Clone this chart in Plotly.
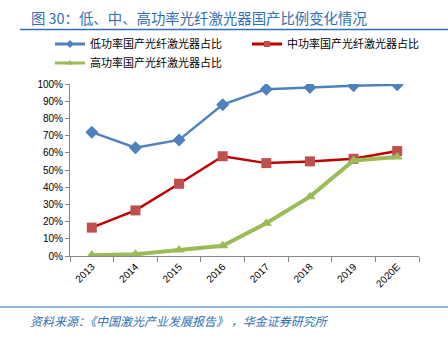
import plotly.graph_objects as go

years = ["2013", "2014", "2015", "2016", "2017", "2018", "2019", "2020E"]
low_power = [72, 63, 67.5, 88, 97, 98, 99, 99.5]
mid_power = [16.5, 26.5, 42, 58, 54, 55, 56.5, 61]
high_power = [0.5, 1, 3.5, 6, 19, 34.5, 55.5, 57.5]
names = ["低功率国产光纤激光器占比", "中功率国产光纤激光器占比", "高功率国产光纤激光器占比"]
title_text = "图 30：低、中、高功率光纤激光器国产比例变化情况"
source_text = "资料来源：《中国激光产业发展报告》 ，华金证券研究所"

CJK = "Noto Sans CJK SC"
LAT = "Liberation Sans"

# plot area in pixels: x 70..419, y 84..256
L, R, T, B = 70, 419, 84, 256
def px(x):
    return (x - L) / (R - L)
def py(y):
    return (B - y) / (B - T)

series = [
    (names[0], low_power, "#4F81BD", "#4F81BD", 2.5, "diamond", "legend"),
    (names[1], mid_power, "#C00000", "#C0504D", 2.5, "square", "legend2"),
    (names[2], high_power, "#9BBB59", "#9BBB59", 4, "triangle-up", "legend3"),
]

fig = go.Figure()
for name, vals, lc, mc, lw, sym, leg in series:
    fig.add_trace(go.Scatter(x=years, y=vals, name=name, mode="lines+markers",
                             line=dict(color=lc, width=lw),
                             marker=dict(symbol=sym, size=10, color=mc),
                             showlegend=False))
    # legend-only entry with smaller marker, as in the reference legend
    fig.add_trace(go.Scatter(x=[None], y=[None], name=name, mode="lines+markers",
                             line=dict(color=lc, width=3),
                             marker=dict(symbol=sym, size=6, color=mc),
                             legend=leg, showlegend=True))

leg_common = dict(orientation="v", xanchor="left", yanchor="middle",
                  font=dict(family=CJK, size=11, color="#000000"),
                  itemwidth=30, tracegroupgap=0, bgcolor="rgba(0,0,0,0)")

fig.update_layout(
    width=448, height=338,
    margin=dict(l=L, r=448 - R, t=T, b=338 - B),
    paper_bgcolor="white", plot_bgcolor="white",
    font=dict(family=LAT, size=10, color="#000000"),
    showlegend=True,
    legend=dict(x=px(50), y=py(44), **leg_common),
    legend2=dict(x=px(247), y=py(44), **leg_common),
    legend3=dict(x=px(50), y=py(63), **leg_common),
    xaxis=dict(type="category", showline=True, linecolor="#868686", linewidth=1,
               ticks="outside", tickson="boundaries", ticklen=5, tickcolor="#868686",
               tickangle=-45, showgrid=False, tickfont=dict(family=LAT, size=10),
               range=[-0.5, 7.5]),
    yaxis=dict(range=[0, 100], dtick=10, ticksuffix="%", showline=True,
               linecolor="#868686", linewidth=1, ticks="outside", ticklen=4,
               tickcolor="#868686", showgrid=False, zeroline=False,
               tickfont=dict(family=LAT, size=10)),
    shapes=[
        dict(type="line", xref="paper", yref="paper", x0=px(20), x1=px(448),
             y0=py(29.5), y1=py(29.5), line=dict(color="#2F6FB4", width=1.5)),
        dict(type="line", xref="paper", yref="paper", x0=px(0), x1=px(448),
             y0=py(307), y1=py(307), line=dict(color="#8DB8E6", width=2)),
    ],
)

fig.add_annotation(text=title_text, xref="paper", yref="paper", x=px(29), y=py(17),
                   xanchor="left", yanchor="middle", showarrow=False,
                   font=dict(family=CJK, size=14.4, color="#2F6FB4"))
fig.add_annotation(text=source_text, xref="paper", yref="paper", x=px(28),
                   y=py(320), xanchor="left", yanchor="middle", showarrow=False,
                   font=dict(family=CJK, size=12, color="#2F6FB4", style="italic"))

fig.write_html("out.html")
